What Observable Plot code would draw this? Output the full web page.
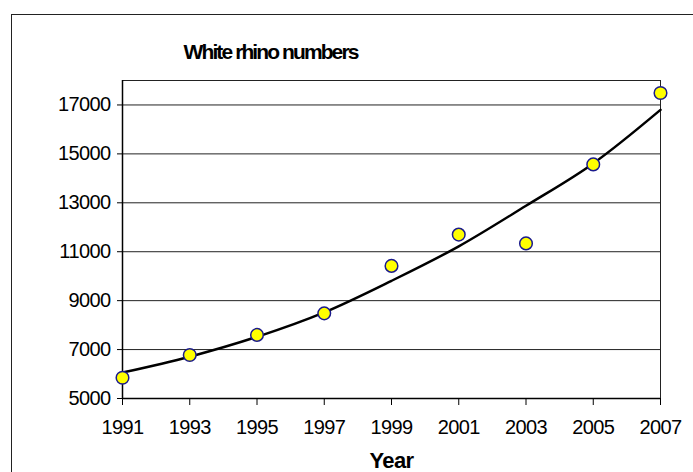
<!DOCTYPE html>
<html>
<head>
<meta charset="utf-8">
<script src="https://cdn.jsdelivr.net/npm/d3@7"></script>
<script src="https://cdn.jsdelivr.net/npm/@observablehq/plot@0.6"></script>
<style>
  html, body { margin: 0; padding: 0; background: #fff; }
  #wrap { position: relative; width: 693px; height: 472px; overflow: hidden; }
  #frame { position: absolute; left: 11px; top: 14px; width: 760px; height: 540px; border: 1.5px solid #222; box-sizing: border-box; }
  #chart { position: absolute; left: 0; top: 0; }
</style>
</head>
<body>
<div id="wrap"><div id="frame"></div><div id="chart"></div></div>
<script>
const title = "White rhino numbers";
const xLabel = "Year";
const years = [1991, 1993, 1995, 1997, 1999, 2001, 2003, 2005, 2007];
const rhinos = [5850, 6780, 7600, 8480, 10420, 11700, 11340, 14570, 17490];
const trend = [6060, 6710, 7520, 8520, 9810, 11220, 12880, 14610, 16800];
const yTicks = [5000, 7000, 9000, 11000, 13000, 15000, 17000];
const xTicks = years;

const points = years.map((y, i) => ({year: y, value: rhinos[i]}));
const trendData = years.map((y, i) => ({year: y, value: trend[i]}));

const chart = Plot.plot({
  width: 693,
  height: 472,
  marginLeft: 122,
  marginRight: 33,
  marginTop: 80,
  marginBottom: 74,
  style: {fontFamily: "'Liberation Sans', Arial, sans-serif", fontSize: "20px", color: "#000", background: "transparent", overflow: "visible"},
  x: {domain: [1991, 2007]},
  y: {domain: [5000, 18000]},
  marks: [
    Plot.gridY(yTicks.slice(1), {stroke: "#222", strokeOpacity: 1, strokeWidth: 1}),
    Plot.frame({stroke: "#222", strokeWidth: 1}),
    Plot.ruleX([1991], {stroke: "#000", strokeWidth: 1.5}),
    Plot.ruleY([5000], {stroke: "#000", strokeWidth: 1.5}),
    Plot.axisY({ticks: yTicks, tickFormat: d => String(d), tickSize: 5, tickPadding: 7, label: null, fontSize: 20}),
    Plot.axisX({ticks: xTicks, tickFormat: d => String(d), tickSize: 7, tickPadding: 14, label: null, fontSize: 20}),
    Plot.line(trendData, {x: "year", y: "value", curve: "monotone-x", stroke: "#000", strokeWidth: 2.5}),
    Plot.dot(points, {x: "year", y: "value", r: 6.3, fill: "#ffff00", stroke: "#1a1a8c", strokeWidth: 1.5}),
    Plot.text([xLabel], {frameAnchor: "bottom", dy: 69, fontWeight: "bold", fontSize: 22}),
    Plot.text([title], {frameAnchor: "top", dx: -121, dy: -36, fontWeight: "bold", fontSize: 21})
  ]
});
d3.select(chart).selectAll("text").each(function() {
  const t = this.textContent;
  const s = d3.select(this);
  if (t === title) s.style("letter-spacing", "-1.9px");
  else if (t === xLabel) s.style("letter-spacing", "-0.6px");
  else s.style("letter-spacing", "-0.6px");
});
document.getElementById("chart").appendChild(chart);
</script>
</body>
</html>
